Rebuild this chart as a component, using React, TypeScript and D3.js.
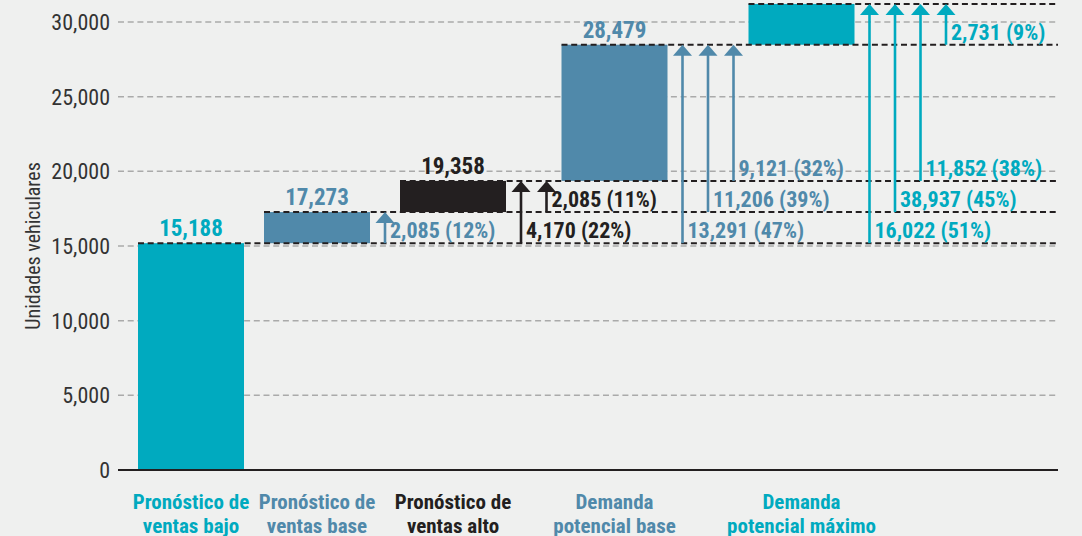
import React, { useRef, useEffect } from 'react';
import * as d3 from 'd3';

// chart data
const categoryLines = [
  ['Pronóstico de', 'ventas bajo'],
  ['Pronóstico de', 'ventas base'],
  ['Pronóstico de', 'ventas alto'],
  ['Demanda', 'potencial base'],
  ['Demanda', 'potencial máximo'],
];
const totals = [15188, 17273, 19358, 28479, 31210];
const valueLabels = ['15,188', '17,273', '19,358', '28,479', ''];
const arrowLabels = [
  [],
  ['2,085 (12%)'],
  ['4,170 (22%)', '2,085 (11%)'],
  ['13,291 (47%)', '11,206 (39%)', '9,121 (32%)'],
  ['16,022 (51%)', '38,937 (45%)', '11,852 (38%)', '2,731 (9%)'],
];
const yTicks = [0, 5000, 10000, 15000, 20000, 25000, 30000];

const TEAL = '#00aabf';
const STEEL = '#5089aa';
const BLACK = '#231f20';
const barColors = [TEAL, STEEL, BLACK, STEEL, TEAL];

const FONT = "'Liberation Sans Narrow', 'Roboto Condensed', 'DejaVu Sans Condensed', sans-serif";

const App = () => {
  const svgRef = useRef<SVGSVGElement>(null);

  useEffect(() => {
    const svg = d3.select(svgRef.current);
    svg.selectAll('*').remove();

    const width = 1082;
    const height = 536;
    const plotLeft = 118;
    const plotRight = 1058;

    svg.append('rect').attr('width', width).attr('height', height).attr('fill', '#eff0ef');

    const y = d3.scaleLinear().domain([0, 30000]).range([470, 22]);

    // horizontal layout: bar slots followed by arrow slots
    const barW = 106;
    const arrowGap = 25.5;
    const arrowPad = 15;
    const barX: number[] = [];
    const arrowX: number[][] = [];
    let cursor = 138;
    arrowLabels.forEach((labels, k) => {
      barX.push(cursor);
      cursor += barW;
      const xs: number[] = [];
      if (labels.length) {
        labels.forEach((_, j) => xs.push(cursor + arrowPad + j * arrowGap));
        cursor = xs[xs.length - 1] + arrowPad;
      } else {
        cursor += 20;
      }
      arrowX.push(xs);
    });

    // grid
    svg
      .append('g')
      .selectAll('line')
      .data(yTicks.filter((d) => d > 0))
      .enter()
      .append('line')
      .attr('x1', plotLeft)
      .attr('x2', plotRight)
      .attr('y1', (d) => y(d))
      .attr('y2', (d) => y(d))
      .attr('stroke', '#aaaaaa')
      .attr('stroke-width', 1.5)
      .attr('stroke-dasharray', '6,3.7');

    // tick labels
    svg
      .append('g')
      .selectAll('text')
      .data(yTicks)
      .enter()
      .append('text')
      .attr('x', 110)
      .attr('y', (d) => y(d) + 8)
      .attr('text-anchor', 'end')
      .attr('font-family', FONT)
      .attr('font-size', 22)
      .attr('fill', '#333')
      .text((d) => d3.format(',')(d));

    // axis title
    svg
      .append('text')
      .attr('transform', `translate(40, ${y(15000)}) rotate(-90)`)
      .attr('text-anchor', 'middle')
      .attr('font-family', FONT)
      .attr('font-size', 20)
      .attr('fill', '#333')
      .text('Unidades vehiculares');

    // bars
    svg
      .append('g')
      .selectAll('rect')
      .data(totals)
      .enter()
      .append('rect')
      .attr('x', (d, i) => barX[i])
      .attr('y', (d) => y(d))
      .attr('width', barW)
      .attr('height', (d, i) => y(i === 0 ? 0 : totals[i - 1]) - y(d))
      .attr('fill', (d, i) => barColors[i]);

    // zero axis
    svg
      .append('line')
      .attr('x1', plotLeft)
      .attr('x2', plotRight)
      .attr('y1', y(0))
      .attr('y2', y(0))
      .attr('stroke', BLACK)
      .attr('stroke-width', 2);

    // level lines
    svg
      .append('g')
      .selectAll('line')
      .data(totals)
      .enter()
      .append('line')
      .attr('x1', (d, i) => barX[i])
      .attr('x2', plotRight)
      .attr('y1', (d) => y(d))
      .attr('y2', (d) => y(d))
      .attr('stroke', BLACK)
      .attr('stroke-width', 2)
      .attr('stroke-dasharray', '6,3.7');

    // arrows and their labels
    arrowLabels.forEach((labels, k) => {
      labels.forEach((label, j) => {
        const ax = arrowX[k][j];
        const y0 = y(totals[j]);
        const y1 = y(totals[k]);
        const g = svg.append('g');
        g.append('line')
          .attr('x1', ax)
          .attr('x2', ax)
          .attr('y1', y0)
          .attr('y2', y1 + 10)
          .attr('stroke', barColors[k])
          .attr('stroke-width', 2.6);
        g.append('path')
          .attr('d', `M${ax},${y1} L${ax + 9.5},${y1 + 11} L${ax - 9.5},${y1 + 11} Z`)
          .attr('fill', barColors[k]);
        g.append('text')
          .attr('x', ax + 5)
          .attr('y', y0 - 5)
          .attr('font-family', FONT)
          .attr('font-weight', 'bold')
          .attr('font-size', 22)
          .attr('fill', barColors[k])
          .text(label);
      });
    });

    // value labels above bars
    svg
      .append('g')
      .selectAll('text')
      .data(totals)
      .enter()
      .append('text')
      .attr('x', (d, i) => barX[i] + barW / 2)
      .attr('y', (d) => y(d) - 7)
      .attr('text-anchor', 'middle')
      .attr('font-family', FONT)
      .attr('font-weight', 'bold')
      .attr('font-size', 23)
      .attr('fill', (d, i) => barColors[i])
      .text((d, i) => valueLabels[i]);

    // category labels
    const cat = svg
      .append('g')
      .selectAll('text')
      .data(categoryLines)
      .enter()
      .append('text')
      .attr('text-anchor', 'middle')
      .attr('font-family', FONT)
      .attr('font-weight', 'bold')
      .attr('font-size', 21)
      .attr('fill', (d, i) => barColors[i]);
    cat
      .selectAll('tspan')
      .data((d, i) => d.map((t) => ({ t, i })))
      .enter()
      .append('tspan')
      .attr('x', (d) => barX[d.i] + barW / 2)
      .attr('y', (d, j) => 509 + j * 23.5)
      .text((d) => d.t);
  }, []);

  return (
    <div style={{ position: 'absolute', left: 0, top: 0 }}>
      <svg ref={svgRef} width={1082} height={536} style={{ display: 'block' }}></svg>
    </div>
  );
};

export default App;
